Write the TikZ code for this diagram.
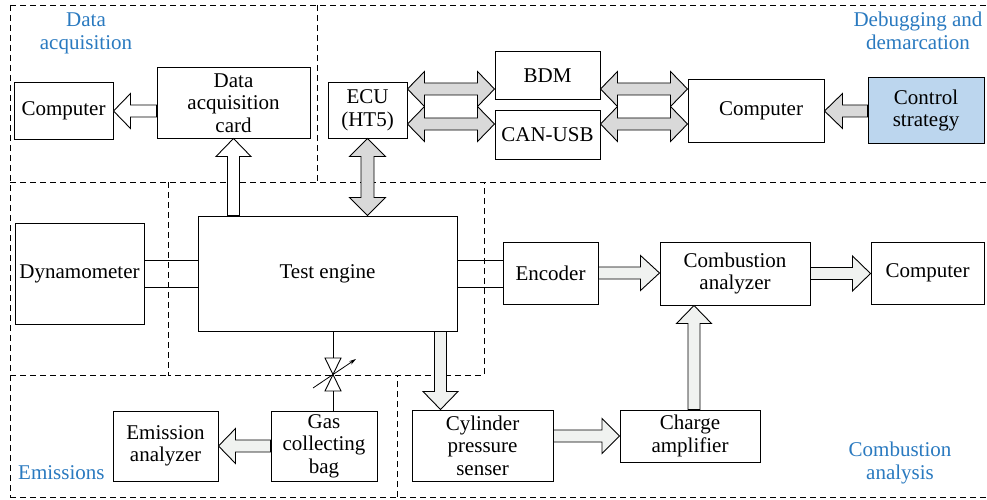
\documentclass[tikz,border=0pt]{standalone}
\usepackage{fontspec}
\setmainfont{Liberation Serif}
\usetikzlibrary{calc,arrows.meta}
\definecolor{arrgray}{HTML}{D9D9D9}
\definecolor{arrlight}{HTML}{F0F2F0}
\definecolor{lblblue}{HTML}{2A7AC0}
\definecolor{ctrlblue}{HTML}{BCD6EE}
\newcommand\myharr[4]{% start, tip, fill, signed head length
\draw[blk,fill=#3] let \p1=(#1), \p2=(#2), \n1={#4} in
 (\x1,{\y2+6pt}) -- ({\x2-\n1},{\y2+6pt}) -- ({\x2-\n1},{\y2+17.5pt}) -- (\x2,\y2) -- ({\x2-\n1},{\y2-17.5pt}) -- ({\x2-\n1},{\y2-6pt}) -- (\x1,{\y2-6pt}) -- cycle;}
\newcommand\myvarr[4]{% start, tip, fill, signed head length (canvas)
\draw[blk,fill=#3] let \p1=(#1), \p2=(#2), \n1={#4} in
 ({\x2+6pt},\y1) -- ({\x2+6pt},{\y2-\n1}) -- ({\x2+17.5pt},{\y2-\n1}) -- (\x2,\y2) -- ({\x2-17.5pt},{\y2-\n1}) -- ({\x2-6pt},{\y2-\n1}) -- ({\x2-6pt},\y1) -- cycle;}
\newcommand\mydharr[3]{% left tip, right tip, fill
\draw[blk,fill=#3] let \p1=(#1), \p2=(#2) in
 (\x1,\y2) -- ({\x1+17pt},{\y2+17.5pt}) -- ({\x1+17pt},{\y2+6pt}) -- ({\x2-17pt},{\y2+6pt}) -- ({\x2-17pt},{\y2+17.5pt}) -- (\x2,\y2) -- ({\x2-17pt},{\y2-17.5pt}) -- ({\x2-17pt},{\y2-6pt}) -- ({\x1+17pt},{\y2-6pt}) -- ({\x1+17pt},{\y2-17.5pt}) -- cycle;}
\newcommand\mydvarr[3]{% top tip, bottom tip, fill
\draw[blk,fill=#3] let \p1=(#1), \p2=(#2) in
 (\x1,\y1) -- ({\x1+18pt},{\y1-18pt}) -- ({\x1+6.5pt},{\y1-18pt}) -- ({\x1+6.5pt},{\y2+18pt}) -- ({\x1+18pt},{\y2+18pt}) -- (\x1,\y2) -- ({\x1-18pt},{\y2+18pt}) -- ({\x1-6.5pt},{\y2+18pt}) -- ({\x1-6.5pt},{\y1-18pt}) -- ({\x1-18pt},{\y1-18pt}) -- cycle;}
\begin{document}
\begin{tikzpicture}[x=1pt,y=-1pt,
  every node/.style={font=\fontsize{21}{22.5}\selectfont},
  box/.style={draw,line width=1pt,inner sep=0pt,align=center,fill=white},
  blk/.style={line width=0.9pt,line join=miter},
  region/.style={line width=0.9pt,dash pattern=on 6pt off 4pt},
  lbl/.style={text=lblblue,align=center,inner sep=0pt}]
\useasboundingbox (0,0) rectangle (987,500);
\fill[white] (0,0) rectangle (987,500);
% dashed regions
\draw[region] (10,5) -- (987,5);
\draw[region] (10,5) -- (10,497);
\draw[region] (317,5) -- (317,182);
\draw[region] (10,182) -- (987,182);
\draw[region] (168,182) -- (168,375) -- (484,375) -- (484,182);
\draw[region] (10,375) -- (168,375);
\draw[region] (397,497) -- (397,375);
\draw[region] (10,497) -- (987,497);
% labels
\node[lbl] (lda) at (86,33.5) {Data\\acquisition};
\node[lbl] (ldd) at (918,31) {Debugging and\\demarcation};
\node[lbl,anchor=west] (lem) at (18,473) {Emissions};
\node[lbl] (lca) at (900,463) {Combustion\\analysis};
% boxes
\node[box,minimum width=99pt,minimum height=56pt] (daqpc) at (63.5,111) {Computer};
\node[box,minimum width=153pt,minimum height=70pt] (daqcard) at (233.5,103) {Data\\acquisition\\card};
\node[box,minimum width=79pt,minimum height=55pt] (ecu) at (367.5,110.5) {ECU\\(HT5)};
\node[box,minimum width=105pt,minimum height=48pt] (bdm) at (547.5,76) {BDM};
\node[box,minimum width=105pt,minimum height=48pt] (canusb) at (547.5,135) {CAN-USB};
\node[box,minimum width=136pt,minimum height=62pt] (pcb) at (756,111) {\hspace*{10pt}Computer};
\node[box,fill=ctrlblue,minimum width=116pt,minimum height=65pt] (ctrl) at (926,110.5) {Control\\strategy};
\node[box,minimum width=129pt,minimum height=101pt] (dyno) at (79.5,273.5) {Dynamometer};
\node[box,minimum width=259pt,minimum height=115pt] (engine) at (327.5,273.5) {Test engine};
\node[box,minimum width=95pt,minimum height=62pt] (encoder) at (550.5,273) {Encoder};
\node[box,minimum width=150pt,minimum height=63pt] (comb) at (735,273.5) {Combustion\\analyzer};
\node[box,minimum width=113pt,minimum height=62pt] (pcc) at (927.5,273) {Computer};
\node[box,minimum width=141pt,minimum height=71pt] (cyl) at (482.5,445.5) {Cylinder\\pressure\\senser};
\node[box,minimum width=140pt,minimum height=52pt] (charge) at (690,436) {Charge\\amplifier};
\node[box,minimum width=106pt,minimum height=70pt] (gas) at (324,446) {Gas\\collecting\\bag};
\node[box,minimum width=105pt,minimum height=70pt] (emis) at (165.5,446) {Emission\\analyzer};
% helper coordinates
\coordinate (rowA) at (0,89);
\coordinate (rowB) at (0,124);
\coordinate (sh1) at (0,260);
\coordinate (sh2) at (0,287);
\coordinate (colx) at (694,0);
\coordinate (cylx) at (440.5,0);
\coordinate (vx) at (333,0);
\coordinate (vt) at (333,358);
\coordinate (vb) at (333,391);
% shaft couplings
\draw[line width=1pt] (dyno.east |- sh1) -- (engine.west |- sh1);
\draw[line width=1pt] (dyno.east |- sh2) -- (engine.west |- sh2);
\draw[line width=1pt] (engine.east |- sh1) -- (encoder.west |- sh1);
\draw[line width=1pt] (engine.east |- sh2) -- (encoder.west |- sh2);
% block arrows
\myharr{daqcard.west |- daqpc.east}{daqpc.east}{white}{-17pt}
\myvarr{daqcard.south |- engine.north}{daqcard.south}{white}{18pt}
\mydvarr{ecu.south}{ecu.south |- engine.north}{arrgray}
\mydharr{ecu.east |- rowA}{bdm.west |- rowA}{arrgray}
\mydharr{ecu.east |- rowB}{canusb.west |- rowB}{arrgray}
\mydharr{bdm.east |- rowA}{pcb.west |- rowA}{arrgray}
\mydharr{canusb.east |- rowB}{pcb.west |- rowB}{arrgray}
\myharr{ctrl.west |- pcb.east}{pcb.east}{arrgray}{-18pt}
\myharr{encoder.east}{comb.west |- encoder.east}{arrlight}{19pt}
\myharr{comb.east}{pcc.west |- comb.east}{arrlight}{18pt}
\myvarr{charge.north -| colx}{comb.south -| colx}{arrlight}{18pt}
\myvarr{engine.south -| cylx}{cyl.north -| cylx}{arrlight}{-18pt}
\myharr{cyl.east |- charge.west}{charge.west}{arrlight}{17.5pt}
\myharr{gas.west}{emis.east}{arrlight}{-17pt}
% valve
\draw[line width=1pt] (engine.south -| vx) -- (vt);
\draw[line width=0.9pt,fill=white] (325,358) -- (341,358) -- (325,391) -- (341,391) -- cycle;
\draw[line width=1pt] (vb) -- (gas.north -| vx);
\draw[line width=0.8pt,-{Stealth[length=7pt,width=4pt]}] (313,388) -- (356,359);
\end{tikzpicture}
\end{document}
